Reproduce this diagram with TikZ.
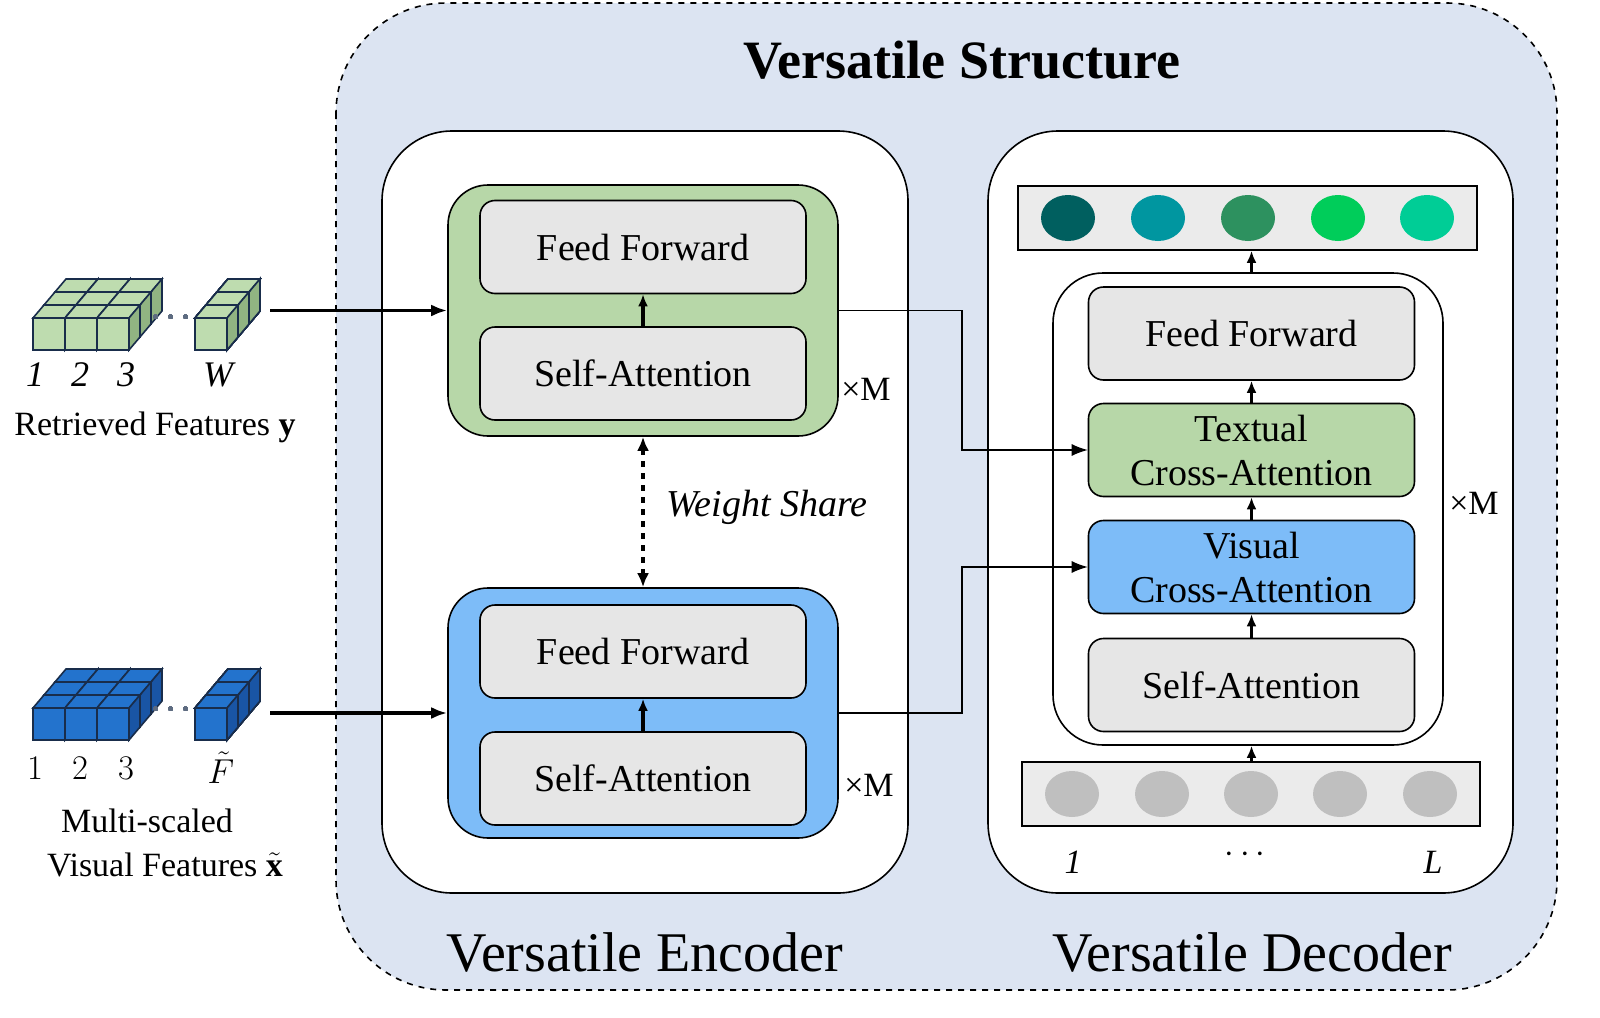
\documentclass[tikz,border=0pt]{standalone}
\usepackage{fontspec}
\usepackage{amsmath}
\usepackage{bm}
\setmainfont{Liberation Serif}
\usetikzlibrary{positioning, arrows.meta, shapes.geometric}

\definecolor{bgblue}{RGB}{220,228,242}
\definecolor{encgreen}{RGB}{183,215,168}
\definecolor{encblue}{RGB}{125,188,248}
\definecolor{blockgray}{RGB}{230,230,230}
\definecolor{cubegreen}{RGB}{190,220,175}
\definecolor{cubegreenside}{RGB}{145,180,130}
\definecolor{cubeblue}{RGB}{35,115,205}
\definecolor{cubeblueside}{RGB}{25,85,165}
\definecolor{cubeedge}{RGB}{25,45,75}
\definecolor{o1}{RGB}{0,95,95}
\definecolor{o2}{RGB}{0,150,160}
\definecolor{o3}{RGB}{45,145,95}
\definecolor{o4}{RGB}{0,205,90}
\definecolor{o5}{RGB}{0,205,150}

% one cube: front lower-left corner, face colour, side colour
\newcommand{\cubeat}[4]{%
  \fill[#3,draw=cubeedge,thick] (#1,#2) -- ++(11,-13) -- ++(32,0) -- ++(-11,13) -- cycle;
  \fill[#4,draw=cubeedge,thick] (#1+32,#2) -- ++(11,-13) -- ++(0,32) -- ++(-11,13) -- cycle;
  \fill[#3,draw=cubeedge,thick] (#1,#2) rectangle ++(32,32);
}

\tikzset{
  block/.style={draw, thick, rounded corners=7.5pt, fill=blockgray,
    minimum width=163pt, minimum height=46.5pt, align=center, font=\fontsize{19}{22}\selectfont},
  panel/.style={draw, thick, rounded corners=20pt},
  dot/.style={ellipse, minimum width=27pt, minimum height=23pt, inner sep=0pt},
  link/.style={-{Latex[length=8pt,width=6pt]}, semithick},
  feed/.style={-{Latex[length=8pt,width=6pt]}, line width=1.8pt},
  stepup/.style={-{Latex[length=6pt,width=5pt]}, line width=1.6pt},
}

\begin{document}
\begin{tikzpicture}[x=0.5pt, y=-0.5pt]
  \useasboundingbox (0,0) rectangle (1600,1017);

  % outer structure
  \draw[dashed, thick, fill=bgblue, rounded corners=55pt] (336,3) rectangle (1557,990);
  \node[font=\bfseries\fontsize{27}{30}\selectfont] (title) at (962,60) {Versatile Structure};

  % encoder
  \draw[panel, fill=white, rounded corners=35pt] (382,131) rectangle (908,893);
  \node[draw, thick, fill=encgreen, rounded corners=20pt, minimum width=195pt, minimum height=125.5pt] (encA) at (643,310.5) {};
  \node[block] (ffA) at (643,247) {Feed Forward};
  \node[block] (saA) at (643,373.5) {Self-Attention};
  \draw[stepup] (saA) -- (ffA);
  \node[font=\fontsize{17}{20}\selectfont] (mA) at (866,389) {×M};

  \node[draw, thick, fill=encblue, rounded corners=20pt, minimum width=195pt, minimum height=125pt] (encB) at (643,713) {};
  \node[block] (ffB) at (643,651.5) {Feed Forward};
  \node[block] (saB) at (643,778.5) {Self-Attention};
  \draw[stepup] (saB) -- (ffB);
  \node[font=\fontsize{17}{20}\selectfont] (mB) at (869,785) {×M};

  \draw[{Latex[length=7pt,width=6pt]}-{Latex[length=7pt,width=6pt]}, dashed, line width=1.6pt] (encA) -- (encB);
  \node[font=\itshape\fontsize{19}{22}\selectfont] (share) at (767,507) {Weight Share};
  \node[font=\fontsize{28}{32}\selectfont] (encname) at (645,952) {Versatile Encoder};

  % decoder
  \draw[panel, fill=white, rounded corners=35pt] (988,131) rectangle (1513,893);
  \node[draw, thick, fill=blockgray!80, minimum width=229.5pt, minimum height=32pt] (outbar) at (1247.5,218) {};
  \foreach \cx/\col [count=\i] in {1068/o1, 1158/o2, 1248/o3, 1338/o4, 1427/o5}
    \node[dot, fill=\col] (out\i) at (\cx,218) {};

  \node[draw, thick, fill=white, rounded corners=25pt, minimum width=195pt, minimum height=236pt] (layer) at (1248,509) {};
  \node[block] (ffD) at (1251.5,333.5) {Feed Forward};
  \node[block, fill=encgreen] (txt) at (1251.5,450) {Textual\\Cross-Attention};
  \node[block, fill=encblue] (vis) at (1251.5,567) {Visual\\Cross-Attention};
  \node[block] (saD) at (1251.5,685) {Self-Attention};
  \draw[stepup] (saD) -- (vis);
  \draw[stepup] (vis) -- (txt);
  \draw[stepup] (txt) -- (ffD);
  \draw[stepup] (layer.north -| ffD) -- (outbar.south -| ffD);
  \node[font=\fontsize{17}{20}\selectfont] (mD) at (1474,503) {×M};

  \node[draw, thick, fill=blockgray!80, minimum width=229pt, minimum height=32pt] (inbar) at (1251,794) {};
  \foreach \cx [count=\i] in {1072,1162,1251,1340,1430}
    \node[dot, fill=black!25] (in\i) at (\cx,794) {};
  \draw[stepup] (inbar.north -| ffD) -- (layer.south -| ffD);
  \node[font=\itshape\fontsize{17}{20}\selectfont] (l1) at (1073,862) {1};
  \node[font=\fontsize{17}{20}\selectfont] (ldots) at (1248,855) {$\cdots$};
  \node[font=\itshape\fontsize{17}{20}\selectfont] (lL) at (1433,862) {L};
  \node[font=\fontsize{28}{32}\selectfont] (decname) at (1252,952) {Versatile Decoder};

  % encoder to decoder
  \coordinate (bendA) at (962,310.5);
  \coordinate (bendB) at (962,713);
  \draw[link] (encA.east) -- (bendA) |- (txt.west);
  \draw[link] (encB.east) -- (bendB) |- (vis.west);

  % retrieved features
  \foreach \r in {2,1,0}
    \foreach \c in {0,1,2}
      \cubeat{33+32*\c+11*\r}{318-13*\r}{cubegreen}{cubegreenside}
  \foreach \r in {2,1,0}
    \cubeat{195+11*\r}{318-13*\r}{cubegreen}{cubegreenside}
  \node[text=cubeedge!70, font=\fontsize{14}{14}\selectfont] (dotsA) at (174,318) {$\bm\cdots$};
  \foreach \x/\t in {35/1, 80/2, 126/3, 218/W}
    \node[font=\itshape\fontsize{18}{20}\selectfont] at (\x,375) {\t};
  \node[font=\fontsize{17}{20}\selectfont] (retr) at (155,427) {Retrieved Features $\mathbf{y}$};
  \coordinate (retrout) at (270,310.5);
  \draw[feed] (retrout) -- (encA.west);

  % visual features
  \foreach \r in {2,1,0}
    \foreach \c in {0,1,2}
      \cubeat{33+32*\c+11*\r}{708-13*\r}{cubeblue}{cubeblueside}
  \foreach \r in {2,1,0}
    \cubeat{195+11*\r}{708-13*\r}{cubeblue}{cubeblueside}
  \node[text=cubeedge!70, font=\fontsize{14}{14}\selectfont] (dotsB) at (174,710) {$\bm\cdots$};
  \foreach \x/\t in {35/1, 80/2, 126/3, 221/\tilde{F}}
    \node[font=\fontsize{18}{20}\selectfont] at (\x,768) {$\t$};
  \node[font=\fontsize{17}{20}\selectfont] (vis1) at (147,821) {Multi-scaled};
  \node[font=\fontsize{17}{20}\selectfont] (vis2) at (165,865) {Visual Features $\tilde{\mathbf{x}}$};
  \coordinate (visout) at (270,713);
  \draw[feed] (visout) -- (encB.west);
\end{tikzpicture}
\end{document}
